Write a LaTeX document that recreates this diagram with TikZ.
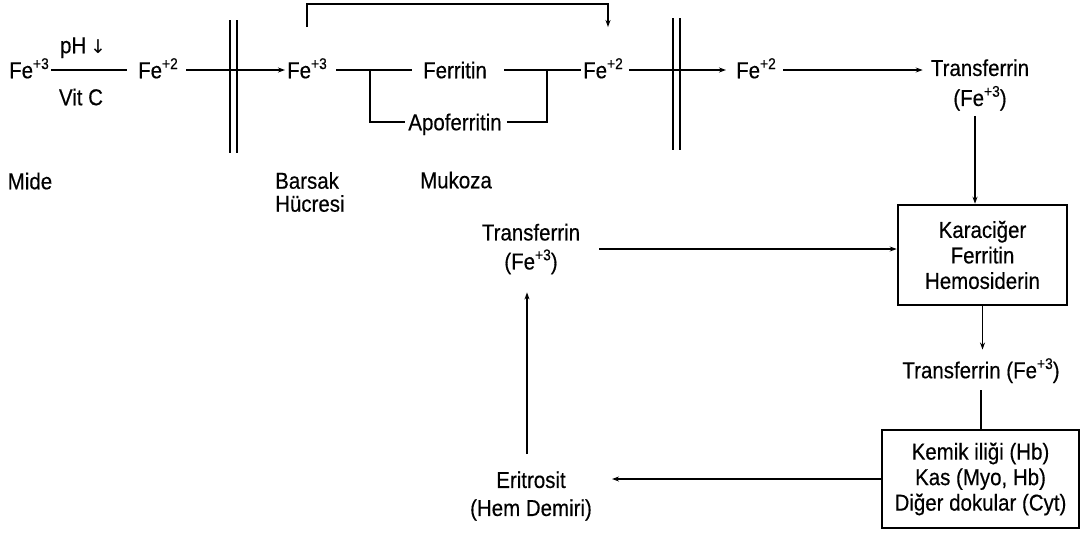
\documentclass[tikz,border=0pt]{standalone}
\usepackage{fontspec}
\setmainfont{Liberation Sans}[FakeStretch=0.89, FakeBold=0.4]
\newfontfamily\dejavu{DejaVu Sans}
\usetikzlibrary{arrows.meta,calc}
\newcommand\supr[1]{\raisebox{0.40em}{\fontsize{15.5}{15.5}\selectfont #1}}
\begin{document}
\begin{tikzpicture}[x=1pt,y=-1pt,
  every node/.style={font=\fontsize{23}{25.5}\selectfont, inner sep=2pt},
  lbl/.style={text height=16.5pt, text depth=0pt},
  ml/.style={align=center},
  ln/.style={line width=1.4pt},
  arr/.style={ln, -{Stealth[length=7pt,width=5pt]}},
  membrane/.style={line width=2.2pt},
  boxst/.style={draw, line width=2.6pt, align=center, inner sep=0pt}]
\useasboundingbox (0,0) rectangle (1081,533);

% nodes
\node[lbl] (fe3a) at (29,70) {Fe\supr{+3}};
\node[lbl] (ph) at (83,45) {pH\,{\dejavu\fontsize{19}{19}\selectfont ↓}};
\node[lbl] (vitc) at (81,97) {Vit C};
\node[lbl] (fe2a) at (158,70) {Fe\supr{+2}};
\node[lbl] (fe3b) at (307,70) {Fe\supr{+3}};
\node[lbl] (fer) at (455,70) {Ferritin};
\node[lbl] (apo) at (455,122) {Apoferritin};
\node[lbl] (fe2b) at (603,70) {Fe\supr{+2}};
\node[lbl] (fe2c) at (756,70) {Fe\supr{+2}};
\node[ml] (tf1) at (980,85) {Transferrin\\[4.5pt](Fe\supr{+3})};
\node[lbl] (mide) at (30,181) {Mide};
\node[align=left, anchor=west] (bars) at (273,192) {Barsak\\[-2.5pt]Hücresi};
\node[lbl] (muk) at (456,180) {Mukoza};
\node[boxst, minimum width=169pt, minimum height=100pt] (kar) at (982.5,255) {Karaciğer\\Ferritin\\Hemosiderin};
\node[ml] (tf2) at (531,249) {Transferrin\\[3.5pt](Fe\supr{+3})};
\node[lbl] (tf3) at (981,370) {Transferrin (Fe\supr{+3})};
\node[boxst, minimum width=197pt, minimum height=98pt] (kem) at (980.5,479) {Kemik iliği (Hb)\\Kas (Myo, Hb)\\Diğer dokular (Cyt)};
\node[ml] (eri) at (531,496) {Eritrosit\\[2.5pt](Hem Demiri)};

\coordinate (j1) at (370,70);
\coordinate (j2) at (547,70);

% membranes
\draw[membrane] (230,20) -- (230,153);
\draw[membrane] (237,20) -- (237,153);
\draw[membrane] (673,18) -- (673,150);
\draw[membrane] (680,18) -- (680,150);

% connectors
\draw[ln, shorten >=9pt] (fe3a.east) -- (fe2a.west);
\draw[arr, shorten <=6pt] (fe2a.east) -- (fe3b.west);
\draw[ln, shorten <=7pt, shorten >=9pt] (fe3b.east) -- (fer.west);
\draw[ln, shorten >=1pt] (j1) |- (apo.west);
\draw[ln, shorten <=3pt] (apo.east) -| (j2);
\draw[ln, shorten <=15pt] (fer.east) -- (fe2b.west);
\draw[arr, shorten <=32.5pt, shorten >=32.5pt] (fe3b.north) -- ++(0,-55.5) -| ([xshift=5pt]fe2b.north);
\draw[arr, shorten <=4pt, shorten >=8pt] (fe2b.east) -- (fe2c.west);
\draw[arr, shorten <=5pt, shorten >=6pt] (fe2c.east) -- (fe2c.east -| tf1.west);
\draw[arr, shorten <=3pt] ([xshift=-5pt]tf1.south) -- ([xshift=-5pt]tf1.south |- kar.north);
\draw[arr, shorten <=17pt] (tf2.east) -- (tf2.east -| kar.west);
\draw[arr, shorten >=10pt] (kar.south) -- (kar.south |- tf3.north);
\draw[ln, shorten <=10pt] (tf3.south) -- (tf3.south |- kem.north);
\draw[arr, shorten >=18pt] (kem.west) -- (kem.west -| eri.east);
\draw[arr, shorten >=16pt] ([xshift=-4pt,yshift=15pt]eri.north) -- ([xshift=-4pt]tf2.south);
\end{tikzpicture}
\end{document}
